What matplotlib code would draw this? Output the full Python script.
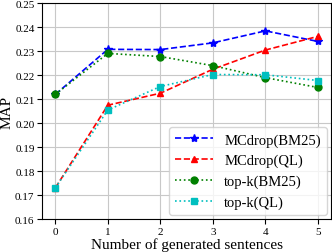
import numpy as np
import matplotlib.pyplot as plt

plt.rcParams['font.family'] = ['Liberation Serif', 'DejaVu Serif']

x = [0, 1, 2, 3, 4, 5]
mc_bm25 = [0.212, 0.2308, 0.2307, 0.2335, 0.2385, 0.2341]
mc_ql = [0.173, 0.2075, 0.2125, 0.2225, 0.2305, 0.2362]
topk_bm25 = [0.212, 0.2291, 0.2278, 0.224, 0.219, 0.2149]
topk_ql = [0.173, 0.2055, 0.2153, 0.2203, 0.2202, 0.2178]

fig = plt.figure(figsize=(3.32, 2.53), dpi=100)
ax = fig.add_axes([0.127, 0.13, 0.87, 0.853])

ax.plot(x, mc_bm25, 'b--', marker='*', markersize=6, linewidth=1.2, label='MCdrop(BM25)')
ax.plot(x, mc_ql, 'r--', marker='^', markersize=5, linewidth=1.2, label='MCdrop(QL)')
ax.plot(x, topk_bm25, 'g:', marker='o', markersize=5, linewidth=1.2, label='top-k(BM25)')
ax.plot(x, topk_ql, 'c:', marker='s', markersize=5, linewidth=1.2, label='top-k(QL)')

ax.set_xlim(-0.25, 5.25)
ax.set_ylim(0.16, 0.25)
ax.set_xticks(x)
yt = np.arange(0.16, 0.2501, 0.01)
ax.set_yticks(yt)
ax.set_yticklabels(['%.2f' % v for v in yt])
ax.tick_params(labelsize=8, pad=2)
ax.grid(True, color='#c8c8c8', linewidth=0.8)
ax.set_xlabel('Number of generated sentences', fontsize=11, labelpad=1)
ax.set_ylabel('MAP', fontsize=11, labelpad=1)
ax.legend(loc='lower right', fontsize=10.5, handlelength=2.6, borderaxespad=0.3)

fig.savefig('out.png', dpi=100)
